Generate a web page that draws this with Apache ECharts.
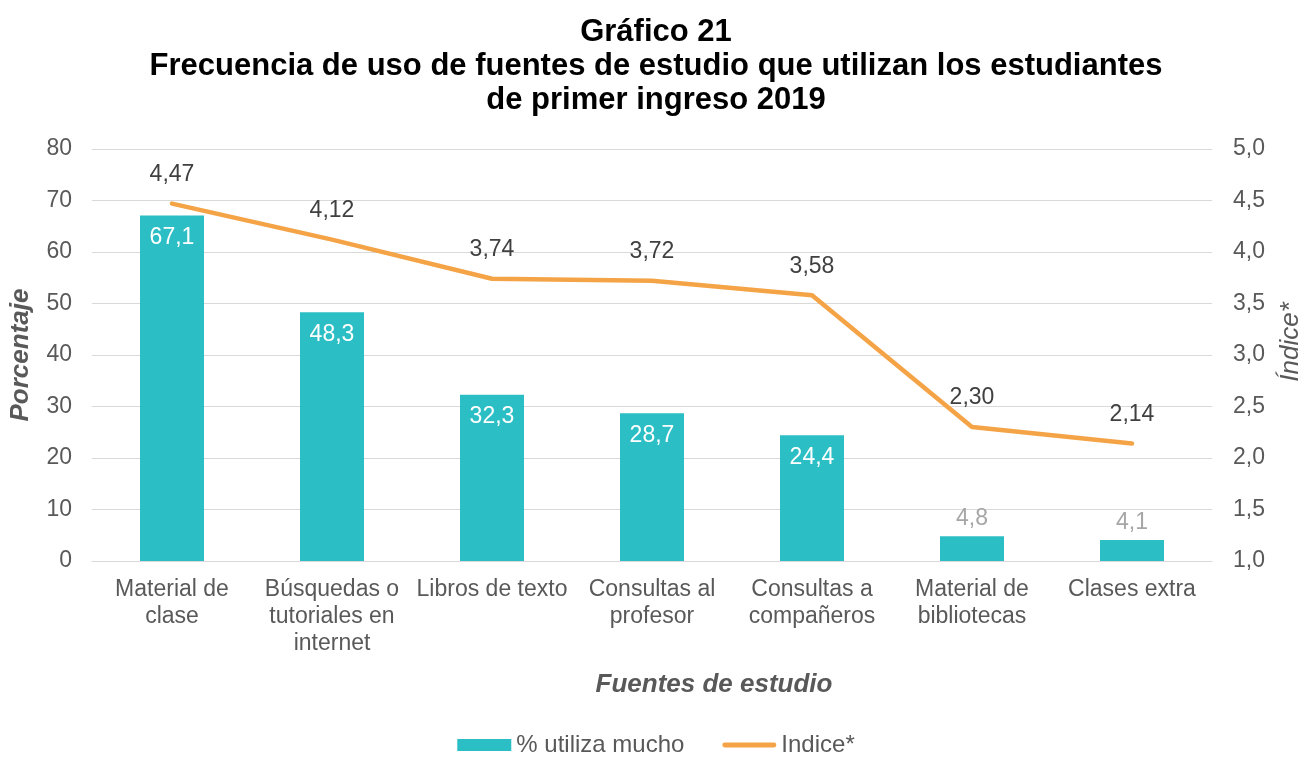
<!DOCTYPE html>
<html>
<head>
<meta charset="utf-8">
<script src="https://cdn.jsdelivr.net/npm/echarts@6/dist/echarts.min.js"></script>
<style>html,body{margin:0;padding:0;background:#fff}#c{width:1312px;height:762px}</style>
</head>
<body>
<div id="c"></div>
<script>
const categories = ["Material de\nclase", "Búsquedas o\ntutoriales en\ninternet", "Libros de texto", "Consultas al\nprofesor", "Consultas a\ncompañeros", "Material de\nbibliotecas", "Clases extra"];
const pctValues = [67.1, 48.3, 32.3, 28.7, 24.4, 4.8, 4.1];
const indexValues = [4.47, 4.12, 3.74, 3.72, 3.58, 2.30, 2.14];
const leftTicks = [0, 80, 10];
const rightTicks = [1, 5, 0.5];

const FONT = '"Liberation Sans", Arial, sans-serif';
const comma = (v, d) => v.toFixed(d).replace('.', ',');

const barData = pctValues.map(v => v < 10
  ? { value: v, label: { position: 'top', color: '#a6a6a6', distance: 6 } }
  : { value: v });

const chart = echarts.init(document.getElementById('c'));
chart.setOption({
  animation: false,
  textStyle: { fontFamily: FONT },
  title: {
    text: 'Gráfico 21\nFrecuencia de uso de fuentes de estudio que utilizan los estudiantes\nde primer ingreso 2019',
    left: 'center', top: 10,
    textStyle: { fontFamily: FONT, fontSize: 31, fontWeight: 'bold', color: '#000', lineHeight: 34 }
  },
  legend: {
    bottom: 0, left: 'center', itemGap: 38,
    textStyle: { fontFamily: FONT, fontSize: 24, color: '#595959' },
    data: [
      { name: '% utiliza mucho', icon: 'rect' },
      { name: 'Indice*', icon: 'path://M2.5,0 L53.5,0 A2.5,2.5 0 0 1 53.5,5 L2.5,5 A2.5,2.5 0 0 1 2.5,0 Z' }
    ],
    itemWidth: 54, itemHeight: 12
  },
  grid: { left: 92, right: 100, top: 149, bottom: 201, outerBoundsMode: 'none', containLabel: false },
  xAxis: {
    type: 'category', data: categories,
    name: 'Fuentes de estudio', nameLocation: 'middle', nameGap: 111,
    nameTextStyle: { fontFamily: FONT, fontSize: 26, fontWeight: 'bold', fontStyle: 'italic', color: '#595959', padding: [0, 0, 0, 124] },
    axisLine: { lineStyle: { color: '#d9d9d9', width: 1 } },
    axisTick: { show: false },
    axisLabel: { fontFamily: FONT, fontSize: 23, color: '#595959', lineHeight: 27, margin: 15, interval: 0 }
  },
  yAxis: [
    {
      type: 'value', min: leftTicks[0], max: leftTicks[1], interval: leftTicks[2],
      name: 'Porcentaje', nameLocation: 'middle', nameGap: 58, nameRotate: 90,
      nameTextStyle: { fontFamily: FONT, fontSize: 26, fontWeight: 'bold', fontStyle: 'italic', color: '#595959' },
      axisLine: { show: false }, axisTick: { show: false },
      axisLabel: { fontFamily: FONT, fontSize: 23, color: '#595959', margin: 20 },
      splitLine: { lineStyle: { color: '#d9d9d9', width: 1 } }
    },
    {
      type: 'value', min: rightTicks[0], max: rightTicks[1], interval: rightTicks[2],
      name: 'Índice*', nameLocation: 'middle', nameGap: 66, nameRotate: 90,
      nameTextStyle: { fontFamily: FONT, fontSize: 26, fontStyle: 'italic', color: '#595959', padding: [0, 0, 0, 26] },
      axisLine: { show: false }, axisTick: { show: false },
      axisLabel: { fontFamily: FONT, fontSize: 23, color: '#595959', margin: 21, formatter: v => comma(v, 1) },
      splitLine: { show: false }
    }
  ],
  series: [
    {
      name: '% utiliza mucho', type: 'bar', yAxisIndex: 0, barWidth: '40%',
      data: barData,
      itemStyle: { color: '#2bbec5' },
      label: {
        show: true, position: 'insideTop', distance: 11, color: '#fff',
        fontFamily: FONT, fontSize: 23,
        formatter: p => comma(p.value, 1)
      }
    },
    {
      name: 'Indice*', type: 'line', yAxisIndex: 1,
      data: indexValues,
      symbol: 'circle', symbolSize: 1, showSymbol: true,
      lineStyle: { color: '#f4a446', width: 4.5, cap: 'round', join: 'round' },
      itemStyle: { color: '#f4a446' },
      label: {
        show: true, position: 'top', distance: 17, color: '#404040',
        fontFamily: FONT, fontSize: 23,
        formatter: p => comma(p.value, 2)
      }
    }
  ]
});
</script>
</body>
</html>
